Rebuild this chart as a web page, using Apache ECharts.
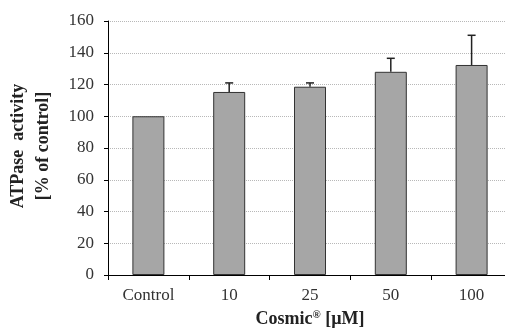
<!DOCTYPE html>
<html>
<head>
<meta charset="utf-8">
<script src="https://cdn.jsdelivr.net/npm/echarts@6/dist/echarts.min.js"></script>
<style>
  html, body { margin: 0; padding: 0; background: #fff; }
  #chart { width: 505px; height: 329px; }
</style>
</head>
<body>
<div id="chart"></div>
<script>
// data
var categories = ['Control', '10', '25', '50', '100']
var activity = [100, 115.3, 118.6, 128, 132.3]
var errUp = [0, 5.7, 2.4, 8.5, 18.7]
var yTicks = [0, 20, 40, 60, 80, 100, 120, 140, 160]

var serif = '"Liberation Serif", "Times New Roman", serif'

var chart = echarts.init(document.getElementById('chart'))

chart.setOption({
  animation: false,
  grid: { left: 108, top: 21, bottom: 54, right: -7, outerBoundsMode: 'none', containLabel: false },
  xAxis: {
    type: 'category',
    data: categories,
    axisLine: { lineStyle: { color: '#000', width: 1 } },
    axisTick: { show: true, length: 5, lineStyle: { color: '#000' } },
    axisLabel: { color: '#333', fontFamily: serif, fontSize: 17, margin: 12 },
    name: '{a|Cosmic}{s|®}{a| [µM]}',
    nameLocation: 'middle',
    nameGap: 35,
    nameTextStyle: {
      rich: {
        a: { fontFamily: serif, fontSize: 18, fontWeight: 'bold', color: '#222' },
        s: { fontFamily: serif, fontSize: 11, fontWeight: 'bold', color: '#222', verticalAlign: 'top', padding: [0, 0, 7, 0] }
      }
    }
  },
  yAxis: {
    type: 'value',
    min: yTicks[0],
    max: yTicks[yTicks.length - 1],
    interval: 20,
    axisLine: { show: true, lineStyle: { color: '#000', width: 1 } },
    axisTick: { show: true, length: 4, lineStyle: { color: '#000' } },
    axisLabel: { color: '#333', fontFamily: serif, fontSize: 17, margin: 14 },
    splitLine: { show: true, lineStyle: { color: '#b8b8b8', type: [1, 1], width: 1 } }
  },
  graphic: [
    {
      type: 'text',
      x: 31,
      y: 146,
      rotation: Math.PI / 2,
      style: {
        text: 'ATPase  activity\n[% of control]',
        fontFamily: serif,
        fontSize: 18,
        fontWeight: 'bold',
        fill: '#222',
        align: 'center',
        verticalAlign: 'middle',
        lineHeight: 25
      }
    }
  ],
  series: [
    {
      type: 'bar',
      data: activity,
      barWidth: 32,
      itemStyle: { color: '#a6a6a6', borderColor: '#333', borderWidth: 1 }
    },
    {
      type: 'custom',
      data: activity.map(function (v, i) { return [i, v, v + errUp[i]] }),
      renderItem: function (params, api) {
        if (api.value(2) <= api.value(1)) return
        var lo = api.coord([api.value(0), api.value(1)])
        var hi = api.coord([api.value(0), api.value(2)])
        var st = { stroke: '#222', lineWidth: 1.5 }
        return {
          type: 'group',
          children: [
            { type: 'line', shape: { x1: lo[0], y1: lo[1], x2: hi[0], y2: hi[1] }, style: st },
            { type: 'line', shape: { x1: hi[0] - 4, y1: hi[1], x2: hi[0] + 4, y2: hi[1] }, style: st }
          ]
        }
      },
      z: 3
    }
  ]
})
</script>
</body>
</html>
